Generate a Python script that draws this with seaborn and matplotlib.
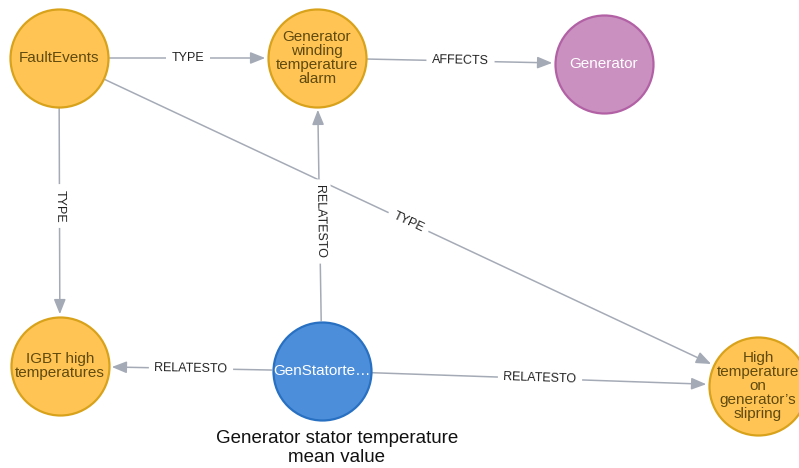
import numpy as np
import pandas as pd
import matplotlib
matplotlib.use("Agg")
import matplotlib.pyplot as plt
import seaborn as sns

# ---- data ----
node_ids = ["fault", "winding", "generator", "igbt", "stator", "slipring"]
node_labels = ["FaultEvents", "Generator\nwinding\ntemperature\nalarm", "Generator",
               "IGBT high\ntemperatures", "GenStatorte\u2026",
               "High\ntemperature\non\ngenerator\u2019s\nslipring"]
node_x = [59, 317, 604, 60, 322, 758]
node_y = [58, 58, 64, 366, 371, 386]
node_kind = ["event", "event", "component", "event", "signal", "event"]

edge_src = ["fault", "winding", "fault", "stator", "fault", "stator", "stator"]
edge_dst = ["winding", "generator", "igbt", "winding", "slipring", "igbt", "slipring"]
edge_labels = ["TYPE", "AFFECTS", "TYPE", "RELATESTO", "TYPE", "RELATESTO", "RELATESTO"]

caption = "Generator stator temperature\nmean value"

# ---- style ----
fill = {"event": "#FFC454", "component": "#C990C0", "signal": "#4C8EDA"}
border = {"event": "#D9A21B", "component": "#B261A5", "signal": "#2870C2"}
textc = {"event": "#604A0E", "component": "#FFFFFF", "signal": "#FFFFFF"}
edge_col = "#A5ABB6"
R_PX = 49
DPI = 100
label_shift = {("stator", "winding"): (0, 7), ("fault", "igbt"): (0, -6)}

sns.set_theme(style="white")
plt.rcParams['font.family'] = ['Liberation Sans', 'DejaVu Sans']

fig = plt.figure(figsize=(7.99, 4.68), dpi=DPI)
ax = fig.add_axes([0, 0, 1, 1])
ax.set_xlim(0, 799)
ax.set_ylim(468, 0)
ax.axis("off")

df = pd.DataFrame({"id": node_ids, "x": node_x, "y": node_y, "kind": node_kind,
                   "label": node_labels})
pos = {r.id: (r.x, r.y) for r in df.itertuples()}

r_pt = R_PX * 72 / DPI
s = (2 * r_pt) ** 2

# edges
for src, dst, lab in zip(edge_src, edge_dst, edge_labels):
    (x0, y0), (x1, y1) = pos[src], pos[dst]
    ax.annotate("", xy=(x1, y1), xytext=(x0, y0),
                arrowprops=dict(arrowstyle="-|>,head_length=0.75,head_width=0.3",
                                color=edge_col, lw=1.1,
                                shrinkA=r_pt + 1, shrinkB=r_pt + 2),
                zorder=1)
    dx, dy = label_shift.get((src, dst), (0, 0))
    mx, my = (x0 + x1) / 2 + dx, (y0 + y1) / 2 + dy
    ang = np.degrees(np.arctan2(-(y1 - y0), x1 - x0))
    if ang > 90:
        ang -= 180
    if ang < -90:
        ang += 180
    ax.text(mx, my, lab, fontsize=9, color="#222222", rotation=ang,
            rotation_mode="anchor", ha="center", va="center",
            bbox=dict(boxstyle="square,pad=0.45", fc="white", ec="none"), zorder=2)

# nodes
for kind in ["event", "component", "signal"]:
    sub = df[df.kind == kind]
    sns.scatterplot(data=sub, x="x", y="y", s=s, color=fill[kind],
                    edgecolor=border[kind], linewidth=1.6, ax=ax, zorder=3,
                    legend=False)

for r in df.itertuples():
    ax.text(r.x, r.y, r.label, fontsize=11, color=textc[r.kind], ha="center",
            va="center", linespacing=0.98, zorder=4)

sx, sy = pos["stator"]
ax.text(sx + 15, sy + 77, caption, fontsize=13.5, color="#111111", ha="center",
        va="center", linespacing=1.15, zorder=4)

ax.set_xlim(0, 799)
ax.set_ylim(468, 0)
fig.savefig("out.png", dpi=DPI, facecolor="white")
